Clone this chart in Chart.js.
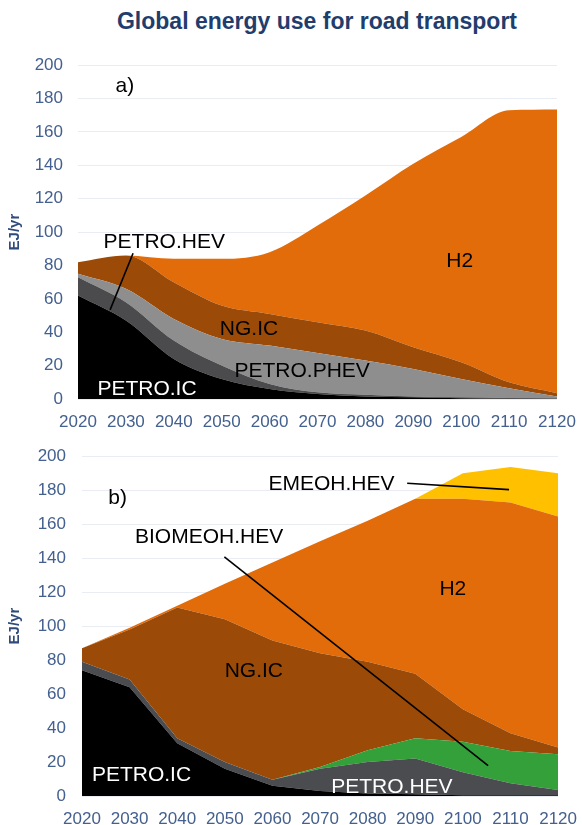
<!DOCTYPE html>
<html>
<head>
<meta charset="utf-8">
<script src="https://cdn.jsdelivr.net/npm/chart.js@4.4.1/dist/chart.umd.min.js"></script>
<style>
  body { margin: 0; background: #fff; width: 582px; height: 825px; overflow: hidden; position: relative;
         font-family: "Liberation Sans", Arial, sans-serif; }
  #title { position: absolute; left: 0; top: 8px; width: 582px; padding-left: 52px; box-sizing: border-box;
           text-align: center; font-weight: bold; font-size: 23px; color: #1f3d6d; }
  canvas { position: absolute; left: 0; }
  #chartA { top: 40px; }
  #chartB { top: 430px; }
</style>
</head>
<body>
<div id="title">Global energy use for road transport</div>
<canvas id="chartA" width="582" height="400"></canvas>
<canvas id="chartB" width="582" height="395"></canvas>
<script>
const years = [2020, 2030, 2040, 2050, 2060, 2070, 2080, 2090, 2100, 2110, 2120];
const yTicks = [0, 20, 40, 60, 80, 100, 120, 140, 160, 180, 200];

// a) EJ/yr per technology
const aPetroIc   = [62, 47, 24, 12, 6, 3, 1.5, 1, 0.5, 0.3, 0.2];
const aPetroHev  = [11, 11, 11, 8, 3, 1, 1, 0.5, 0.5, 0.3, 0.2];
const aPetroPhev = [2, 8, 13, 16, 23, 23.5, 20.5, 16.5, 11, 5.9, 1.1];
const aNgIc      = [7, 20, 22, 20, 19, 18.5, 18, 13, 10, 3.5, 2];
const aH2        = [0, 0, 14, 28, 37, 58, 81, 110, 135, 163, 170];

// b) EJ/yr per technology
const bPetroIc    = [74, 64, 31, 16, 6, 3, 1.5, 1, 0.5, 0.5, 0.5];
const bPetroHev   = [5, 4.5, 3, 4, 3.5, 13, 18.5, 21, 13.5, 7, 3];
const bBiomeohHev = [0, 0, 0, 0, 0, 1, 7, 12, 18, 19, 21];
const bNgIc       = [8, 29.5, 77, 84, 82, 67, 52, 38, 19, 10.5, 4];
const bH2         = [0, 1, 1, 21, 46, 66, 83, 103, 124, 135.7, 136];
const bEmeohHev   = [0, 0, 0, 0, 0, 0, 0, 0, 15, 21, 25.5];

const FONT = '"Liberation Sans", Arial, sans-serif';
const TICK_COLOR = '#44608e';

// text labels and leader lines, placed in data units (year, EJ/yr)
const annotate = {
    id: 'annotate',
    afterDatasetsDraw(chart, args, opts) {
        const { ctx, scales: { x, y } } = chart;
        ctx.save();
        ctx.strokeStyle = '#000';
        ctx.lineWidth = 1.6;
        (opts.lines || []).forEach(l => {
            ctx.beginPath();
            ctx.moveTo(x.getPixelForValue(l[0]), y.getPixelForValue(l[1]));
            ctx.lineTo(x.getPixelForValue(l[2]), y.getPixelForValue(l[3]));
            ctx.stroke();
        });
        ctx.font = '21px ' + FONT;
        ctx.textAlign = 'center';
        ctx.textBaseline = 'middle';
        (opts.labels || []).forEach(l => {
            ctx.fillStyle = l.color || '#000';
            ctx.fillText(l.text, x.getPixelForValue(l.x), y.getPixelForValue(l.y));
        });
        ctx.restore();
    }
};

const area = (label, data, color, first, smooth) => ({
    label: label,
    data: data,
    backgroundColor: color,
    borderWidth: 0,
    pointRadius: 0,
    fill: first ? 'origin' : '-1',
    cubicInterpolationMode: smooth ? 'monotone' : 'default',
    tension: 0,
});

const getOptions = (yWidth, tickPad, pad, xHeight, notes) => ({
    responsive: false,
    animation: false,
    layout: { padding: pad },
    plugins: {
        legend: { display: false },
        tooltip: { enabled: false },
        annotate: notes,
    },
    scales: {
        x: {
            type: 'linear',
            min: 2020,
            max: 2120,
            afterBuildTicks: s => { s.ticks = years.map(v => ({ value: v })); },
            afterFit: s => { s.height = xHeight; },
            grid: { display: false },
            border: { display: false },
            ticks: {
                autoSkip: false,
                maxRotation: 0,
                padding: 5,
                color: TICK_COLOR,
                font: { family: FONT, size: 17 },
                callback: v => String(v),
            },
        },
        y: {
            stacked: true,
            min: 0,
            max: 200,
            afterBuildTicks: s => { s.ticks = yTicks.map(v => ({ value: v })); },
            afterFit: s => { s.width = yWidth; },
            grid: { color: '#e9edf3', lineWidth: 1, drawTicks: false },
            border: { display: false },
            ticks: {
                padding: tickPad,
                color: TICK_COLOR,
                font: { family: FONT, size: 17 },
            },
            title: {
                display: true,
                text: 'EJ/yr',
                color: '#2f4b7c',
                padding: { top: 6, bottom: 0 },
                font: { family: FONT, size: 15, weight: 'bold' },
            },
        },
    },
});

new Chart(document.getElementById('chartA'), {
    type: 'line',
    data: {
        labels: years,
        datasets: [
            area('PETRO.IC', aPetroIc, '#000000', true, true),
            area('PETRO.HEV', aPetroHev, '#4b4b4d', false, true),
            area('PETRO.PHEV', aPetroPhev, '#8e8e8e', false, true),
            area('NG.IC', aNgIc, '#9c4a07', false, true),
            area('H2', aH2, '#e36c0a', false, true),
        ],
    },
    options: getOptions(78, 15, { top: 13, right: 25, left: 0, bottom: 0 }, 41, {
        lines: [[2031.5, 87.3, 2026.7, 53.4]],
        labels: [
            { text: 'a)', x: 2029.8, y: 187.3 },
            { text: 'PETRO.HEV', x: 2038, y: 93.8 },
            { text: 'NG.IC', x: 2055.7, y: 41.8 },
            { text: 'PETRO.PHEV', x: 2066.8, y: 16.4 },
            { text: 'PETRO.IC', x: 2034.4, y: 6.0, color: '#fff' },
            { text: 'H2', x: 2099.7, y: 82.8 },
        ],
    }),
    plugins: [annotate],
});

new Chart(document.getElementById('chartB'), {
    type: 'line',
    data: {
        labels: years,
        datasets: [
            area('PETRO.IC', bPetroIc, '#000000', true, false),
            area('PETRO.HEV', bPetroHev, '#4a4c50', false, false),
            area('BIOMEOH.HEV', bBiomeohHev, '#33a03a', false, false),
            area('NG.IC', bNgIc, '#9c4a07', false, false),
            area('H2', bH2, '#e36c0a', false, false),
            area('EMEOH.HEV', bEmeohHev, '#ffc000', false, false),
        ],
    },
    options: getOptions(82, 16, { top: 17, right: 21, left: 0, bottom: 0 }, 29, {
        lines: [
            [2088.3, 184.1, 2109.7, 180.3],
            [2049.9, 140.7, 2105.3, 17.9],
        ],
        labels: [
            { text: 'b)', x: 2027.5, y: 175.5 },
            { text: 'EMEOH.HEV', x: 2072.4, y: 183.6 },
            { text: 'BIOMEOH.HEV', x: 2046.7, y: 152.6 },
            { text: 'H2', x: 2097.9, y: 121.7 },
            { text: 'NG.IC', x: 2056.1, y: 73.5 },
            { text: 'PETRO.IC', x: 2032.5, y: 12.2, color: '#fff' },
            { text: 'PETRO.HEV', x: 2085.1, y: 5.3, color: '#fff' },
        ],
    }),
    plugins: [annotate],
});
</script>
</body>
</html>
